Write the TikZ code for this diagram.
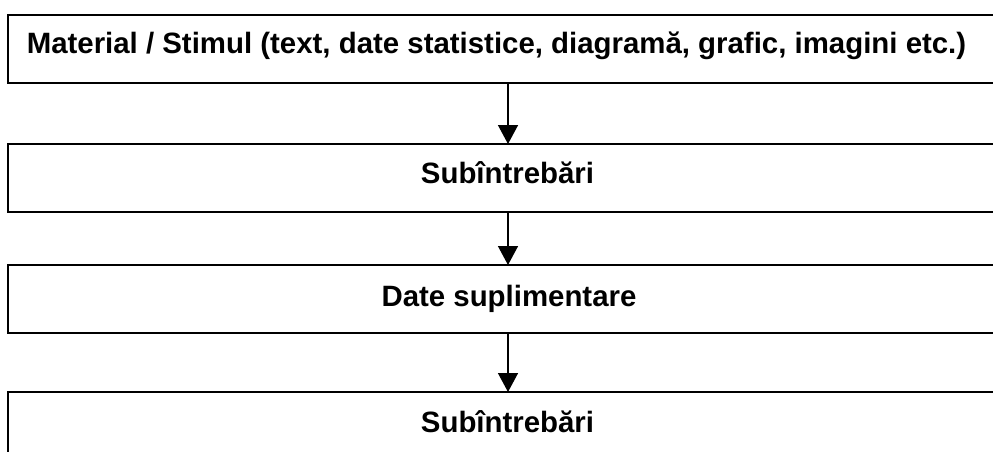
\documentclass[tikz,border=0pt]{standalone}
\usepackage{fontspec}
\setmainfont{Liberation Sans}
\usetikzlibrary{arrows.meta}
\tikzset{
  box/.style={draw=black, line width=1.6pt, fill=white, minimum width=1000pt, minimum height=68pt, inner sep=0pt, outer sep=0pt},
  lbl/.style={anchor=base, inner sep=0pt, font=\fontsize{29.4}{34}\selectfont\bfseries},
  conn/.style={line width=1.5pt, -{Triangle[width=20pt,length=19pt]}}
}
\begin{document}
\begin{tikzpicture}[x=1pt,y=-1pt]
\useasboundingbox (0,0) rectangle (993,452);
\clip (0,0) rectangle (993,452);
\fill[white] (0,0) rectangle (993,452);
\node[box] (b1) at (508,49) {};
\node[box] (b2) at (508,178) {};
\node[box] (b3) at (508,299) {};
\node[box] (b4) at (508,426) {};
\node[lbl] (t1) at (496.5,54) {Material / Stimul (text, date statistice, diagramă, grafic, imagini etc.)};
\node[lbl] (t2) at (507.5,183) {Subîntrebări};
\node[lbl] (t3) at (509,306) {Date suplimentare};
\node[lbl] (t4) at (507.5,432) {Subîntrebări};
\draw[conn] (b1.south) -- (b2.north);
\draw[conn] (b2.south) -- (b3.north);
\draw[conn] (b3.south) -- (b4.north);
\end{tikzpicture}
\end{document}
